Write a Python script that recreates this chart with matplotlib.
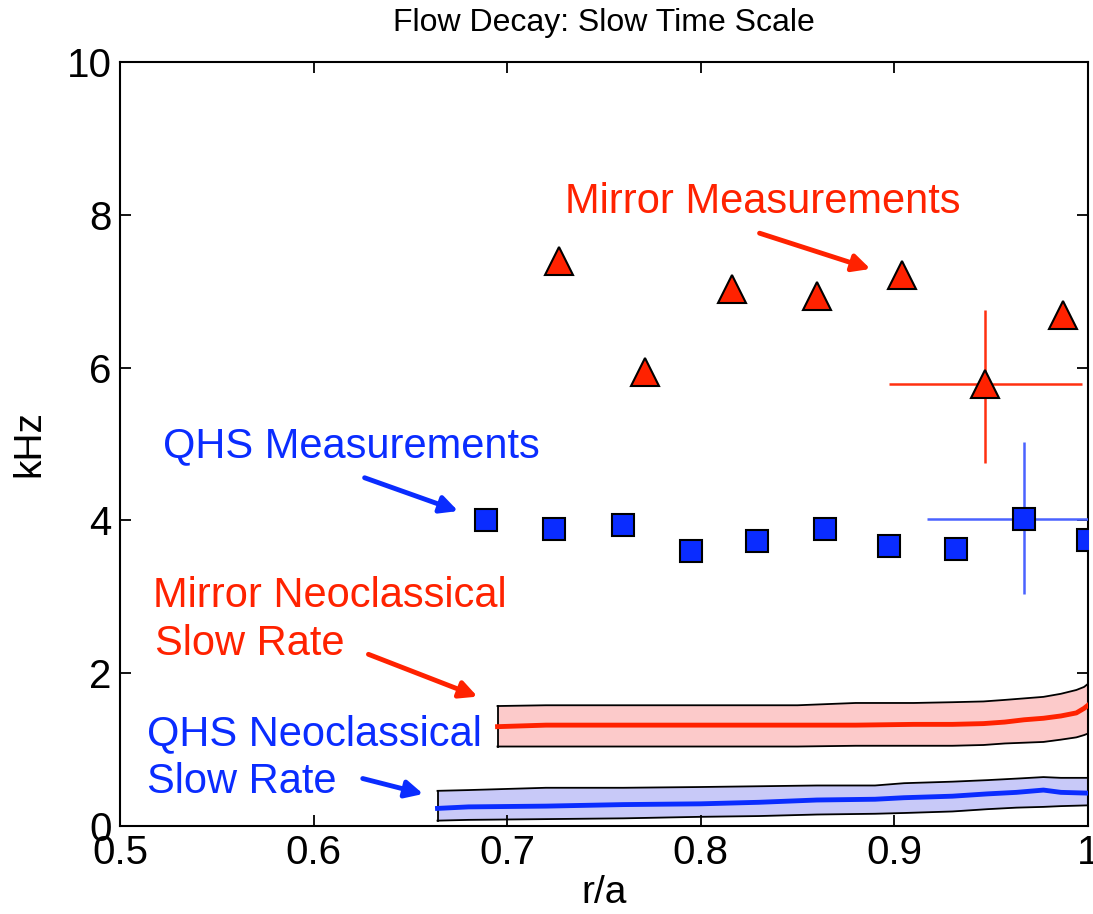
import numpy as np
import matplotlib as mpl
import matplotlib.pyplot as plt

mpl.rcParams["font.family"] = ["Liberation Sans", "DejaVu Sans"]

RED = "#ff2200"
BLUE = "#0a2cff"

# measurements (r/a, kHz)
mirror_x = [0.727, 0.771, 0.816, 0.860, 0.904, 0.947, 0.987]
mirror_y = [7.40, 5.94, 7.03, 6.94, 7.21, 5.79, 6.69]
qhs_x = [0.689, 0.724, 0.760, 0.795, 0.829, 0.864, 0.897, 0.932, 0.967, 1.0]
qhs_y = [4.00, 3.89, 3.94, 3.60, 3.73, 3.89, 3.66, 3.62, 4.02, 3.74]

# one point of each set carries error bars
mirror_err_x, mirror_err_y = 0.947, 5.79
mirror_xerr = [[0.050], [0.050]]
mirror_yerr = [[1.04], [0.96]]
qhs_err_x, qhs_err_y = 0.967, 4.02
qhs_xerr = [[0.050], [0.050]]
qhs_yerr = [[0.98], [1.01]]

# neoclassical slow rate bands
mneo_x = [0.695, 0.72, 0.75, 0.80, 0.85, 0.88, 0.91, 0.93, 0.946, 0.957, 0.967, 0.977, 0.986, 0.994, 0.998, 1.0]
mneo_c = [1.30, 1.32, 1.32, 1.32, 1.32, 1.32, 1.33, 1.33, 1.34, 1.36, 1.39, 1.41, 1.44, 1.48, 1.54, 1.58]
mneo_hi = [1.57, 1.58, 1.58, 1.58, 1.58, 1.61, 1.61, 1.62, 1.63, 1.65, 1.67, 1.69, 1.73, 1.78, 1.82, 1.86]
mneo_lo = [1.04, 1.04, 1.04, 1.04, 1.04, 1.05, 1.05, 1.05, 1.06, 1.08, 1.09, 1.10, 1.13, 1.16, 1.19, 1.21]

qneo_x = [0.664, 0.68, 0.72, 0.76, 0.80, 0.83, 0.86, 0.89, 0.905, 0.93, 0.948, 0.963, 0.977, 0.986, 1.0]
qneo_c = [0.23, 0.25, 0.26, 0.28, 0.29, 0.31, 0.34, 0.35, 0.37, 0.39, 0.42, 0.44, 0.47, 0.44, 0.43]
qneo_hi = [0.46, 0.47, 0.50, 0.50, 0.51, 0.52, 0.53, 0.53, 0.56, 0.58, 0.60, 0.62, 0.64, 0.63, 0.63]
qneo_lo = [0.07, 0.08, 0.09, 0.10, 0.12, 0.13, 0.15, 0.16, 0.17, 0.19, 0.22, 0.24, 0.25, 0.26, 0.27]

fig = plt.figure(figsize=(10.93, 9.14), dpi=100)
ax = fig.add_axes([0.1098, 0.0963, 0.8856, 0.8359])

# bands
ax.fill_between(mneo_x, mneo_lo, mneo_hi, color="#fccaca", lw=0, zorder=1)
ax.plot(mneo_x, mneo_hi, color="k", lw=1.3, zorder=2)
ax.plot(mneo_x, mneo_lo, color="k", lw=1.3, zorder=2)
ax.plot([mneo_x[0], mneo_x[0]], [mneo_lo[0], mneo_hi[0]], color="k", lw=1.3, zorder=2)
ax.plot(mneo_x, mneo_c, color=RED, lw=3.5, zorder=3)

ax.fill_between(qneo_x, qneo_lo, qneo_hi, color="#c8c9f8", lw=0, zorder=1)
ax.plot(qneo_x, qneo_hi, color="k", lw=1.3, zorder=2)
ax.plot(qneo_x, qneo_lo, color="k", lw=1.3, zorder=2)
ax.plot([qneo_x[0], qneo_x[0]], [qneo_lo[0], qneo_hi[0]], color="k", lw=1.3, zorder=2)
ax.plot(qneo_x, qneo_c, color=BLUE, lw=3.5, zorder=3)

# error bars
ax.errorbar([mirror_err_x], [mirror_err_y], xerr=mirror_xerr, yerr=mirror_yerr,
            fmt="none", ecolor="#ff3010", elinewidth=1.8, capsize=0, zorder=4)
ax.errorbar([qhs_err_x], [qhs_err_y], xerr=qhs_xerr, yerr=qhs_yerr,
            fmt="none", ecolor="#4a63ff", elinewidth=1.8, capsize=0, zorder=4)

# markers
ax.plot(mirror_x, mirror_y, "^", ms=20, mfc=RED, mec="k", mew=1.5, zorder=5)
ax.plot(qhs_x, qhs_y, "s", ms=16, mfc="#0a2cff", mec="k", mew=1.5, zorder=5)

# annotations
tfs = 30
arrow = dict(arrowstyle="-|>", lw=3.5, mutation_scale=26)
ax.text(0.730, 8.02, "Mirror Measurements", color=RED, fontsize=tfs, va="baseline")
ax.annotate("", xy=(0.889, 7.28), xytext=(0.829, 7.77), arrowprops=dict(arrow, color=RED))
ax.text(0.522, 4.83, "QHS Measurements", color=BLUE, fontsize=tfs, va="baseline")
ax.annotate("", xy=(0.676, 4.11), xytext=(0.625, 4.57), arrowprops=dict(arrow, color=BLUE))
ax.text(0.517, 2.87, "Mirror Neoclassical", color=RED, fontsize=tfs, va="baseline")
ax.text(0.518, 2.24, "Slow Rate", color=RED, fontsize=tfs, va="baseline")
ax.annotate("", xy=(0.686, 1.68), xytext=(0.627, 2.26), arrowprops=dict(arrow, color=RED))
ax.text(0.514, 1.06, "QHS Neoclassical", color=BLUE, fontsize=tfs, va="baseline")
ax.text(0.514, 0.43, "Slow Rate", color=BLUE, fontsize=tfs, va="baseline")
ax.annotate("", xy=(0.658, 0.41), xytext=(0.624, 0.63), arrowprops=dict(arrow, color=BLUE))

ax.set_xlim(0.5, 1.0)
ax.set_ylim(0, 10)
ax.set_xticks([0.5, 0.6, 0.7, 0.8, 0.9, 1.0])
ax.set_xticklabels(["0.5", "0.6", "0.7", "0.8", "0.9", "1"])
ax.set_yticks([0, 2, 4, 6, 8, 10])
ax.tick_params(direction="in", length=8, width=1.3, top=True, right=True,
               labelsize=29, pad=6)
for s in ax.spines.values():
    s.set_linewidth(1.5)
ax.set_xlabel("r/a", fontsize=28, labelpad=2)
ax.set_ylabel("kHz", fontsize=28, labelpad=14)
ax.set_title("Flow Decay: Slow Time Scale", fontsize=23, pad=22)

fig.savefig("out.png", dpi=100)
